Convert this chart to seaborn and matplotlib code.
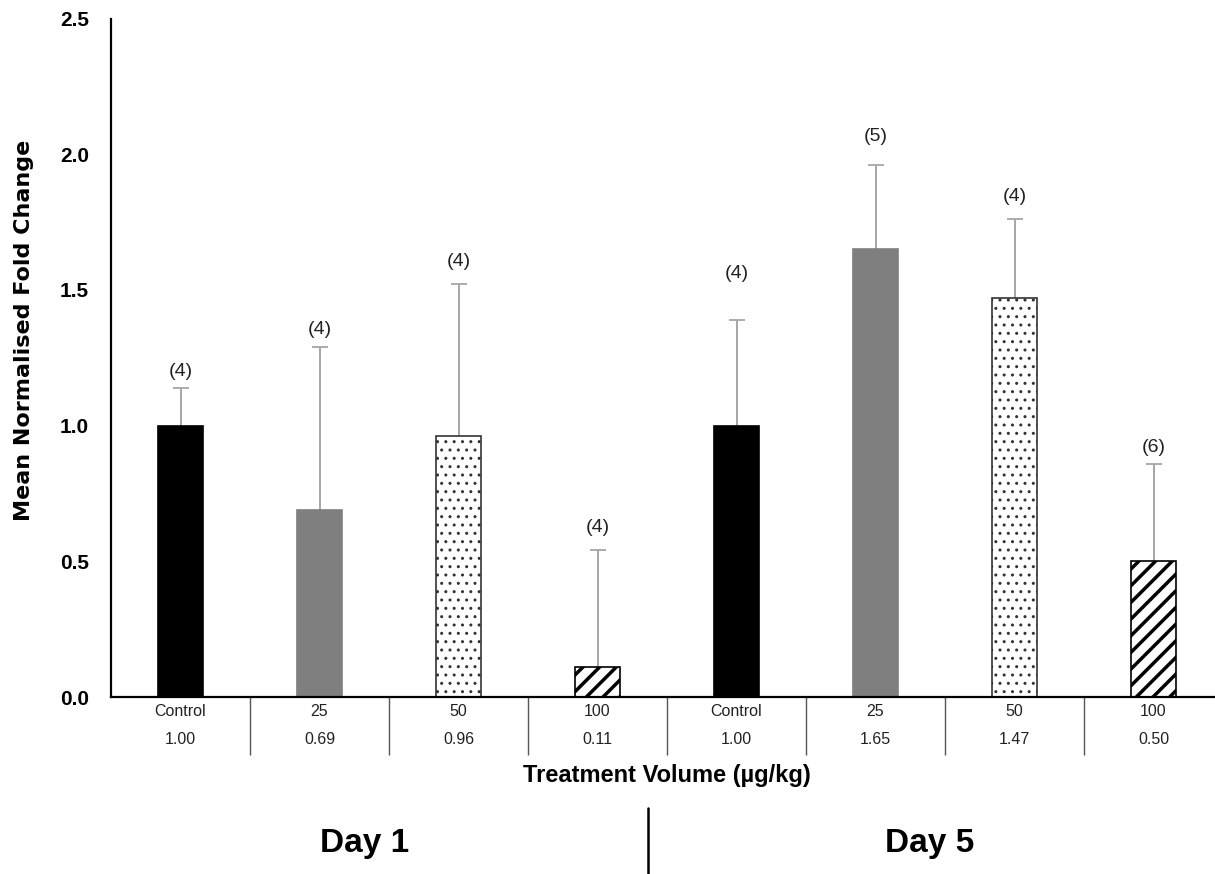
import matplotlib
matplotlib.use("Agg")
import numpy as np
import pandas as pd
import matplotlib.pyplot as plt
import seaborn as sns
from matplotlib.lines import Line2D

# Values
days = ["Day 1"] * 4 + ["Day 5"] * 4
doses = ["Control", "25", "50", "100", "Control", "25", "50", "100"]
means = [1.00, 0.69, 0.96, 0.11, 1.00, 1.65, 1.47, 0.50]
err_top = [1.14, 1.29, 1.52, 0.54, 1.39, 1.96, 1.76, 0.86]
n_counts = [4, 4, 4, 4, 4, 5, 4, 6]
n_label_y = [1.20, 1.355, 1.605, 0.625, 1.56, 2.065, 1.845, 0.92]

# Styling per dose
dose_fill = {"Control": "black", "25": "#7f7f7f", "50": "white", "100": "white"}
dose_edge = {"Control": "black", "25": "#7f7f7f", "50": "#333333", "100": "black"}
dose_hatch = {"Control": "", "25": "", "50": "..", "100": "//"}
dose_hatch_lw = {"Control": 1.0, "25": 1.0, "50": 1.0, "100": 2.5}

df = pd.DataFrame({"day": days, "dose": doses, "mean": means, "upper": err_top, "n": n_counts})
df["group"] = df["day"] + " " + df["dose"]

sns.set_style("white")
plt.rcParams["font.family"] = ["Liberation Sans", "DejaVu Sans"]
plt.rcParams["text.color"] = "black"

fig = plt.figure(figsize=(12.15, 8.74), dpi=100)
ax = fig.add_axes([0.0914, 0.2025, 0.9152, 0.7763])

sns.barplot(data=df, x="group", y="mean", hue="group",
            palette=[dose_fill[d] for d in doses], width=0.32,
            saturation=1, legend=False, ax=ax)

for bar, dose in zip(ax.patches, doses):
    bar.set_edgecolor(dose_edge[dose])
    bar.set_linewidth(1.2)
    bar.set_hatch(dose_hatch[dose])
    if hasattr(bar, "set_hatch_linewidth"):
        bar.set_hatch_linewidth(dose_hatch_lw[dose])
    bar.set_zorder(2)

# upper-only error bars
x_pos = np.arange(len(means))
low = np.zeros(len(means))
high = np.array(err_top) - np.array(means)
_, caps, _ = ax.errorbar(x_pos, means, yerr=[low, high], fmt="none",
                         ecolor="#a6a6a6", elinewidth=1.4, capsize=5.5,
                         capthick=1.3, zorder=1)
for cap in caps:
    if np.allclose(cap.get_ydata(), means):
        cap.set_visible(False)

# sample sizes
for i, (n, y) in enumerate(zip(n_counts, n_label_y)):
    ax.text(i, y, f"({n})", ha="center", va="center", fontsize=14, color="#222222")

# axes
ax.set_xlim(-0.5, len(means) - 0.5)
ax.set_ylim(0, 2.5)
ax.set_yticks(np.arange(0, 2.51, 0.5))
ax.set_yticklabels([f"{t:.1f}" for t in np.arange(0, 2.51, 0.5)])
for lab in ax.get_yticklabels():
    lab.set_fontweight("bold")
ax.tick_params(axis="y", length=0, pad=16, labelsize=15, labelcolor="black")

ax.set_xticks(x_pos)
ax.set_xticklabels(doses)
ax.set_xticks(np.arange(0.5, len(means), 1), minor=True)
ax.tick_params(axis="x", which="major", length=0, pad=5, labelsize=11.5, labelcolor="#222222")
ax.tick_params(axis="x", which="minor", bottom=True, length=42, width=1.0,
               color="#555555", direction="out")

for i, v in enumerate(means):
    ax.text(i, -0.0623, f"{v:.2f}", transform=ax.get_xaxis_transform(),
            ha="center", va="center", fontsize=11.5, color="#222222")

sns.despine(ax=ax)
for side in ["left", "bottom"]:
    ax.spines[side].set_color("black")
    ax.spines[side].set_linewidth(1.6)

ax.set_ylabel("Mean Normalised Fold Change", fontsize=16, fontweight="bold",
              family="DejaVu Sans", color="black")
ax.yaxis.set_label_coords(-0.069, 0.54)
ax.set_xlabel("Treatment Volume (µg/kg)", fontsize=17, fontweight="bold", color="black")
ax.xaxis.set_label_coords(0.5, -0.099)

# day labels under the axis
fig.text(365 / 1215, 22 / 874, "Day 1", fontsize=24, fontweight="bold", ha="center", va="baseline")
fig.text(930 / 1215, 22 / 874, "Day 5", fontsize=24, fontweight="bold", ha="center", va="baseline")
fig.add_artist(Line2D([648 / 1215, 648 / 1215], [0, 66 / 874], color="black", lw=1.8))

fig.savefig("out.png", dpi=100)
